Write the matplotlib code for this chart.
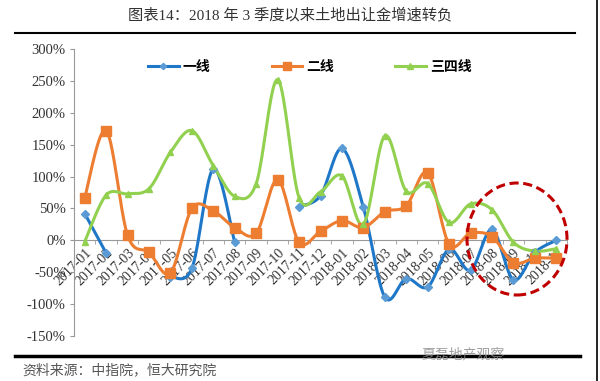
import numpy as np
import matplotlib.pyplot as plt
from matplotlib.patches import Ellipse
from matplotlib.lines import Line2D

plt.rcParams['font.family'] = ['Liberation Serif', 'Noto Sans CJK SC']

months = ["2017-01", "2017-02", "2017-03", "2017-04", "2017-05", "2017-06",
          "2017-07", "2017-08", "2017-09", "2017-10", "2017-11", "2017-12",
          "2018-01", "2018-02", "2018-03", "2018-04", "2018-05", "2018-06",
          "2018-07", "2018-08", "2018-09", "2018-10", "2018-11"]

# 一线 has gaps (None)
tier1 = [42, -20, None, None, -57, -44, 112, -3, None, None, 53, 70,
         144, 52, -89, -60, -73, -14, -47, 17, -62, -19, 0]
tier2 = [67, 172, 8, -19, -51, 50, 46, 20, 11, 95, -3, 14,
         31, 20, 45, 54, 106, -6, 11, 6, -35, -28, -28]
tier34 = [-2, 71, 73, 81, 138, 172, 117, 69, 89, 252, 67, 76,
          101, 25, 164, 77, 89, 28, 57, 48, -3, -17, -13]

names = ["一线", "二线", "三四线"]
colors = ["#1F77C8", "#ED7D31", "#92D050"]
mcolors = ["#5B9BD5", "#ED7D31", "#92D050"]
markers = ["D", "s", "^"]
msizes = [4, 6.5, 5]


def smooth(x, y, n=20):
    # catmull-rom curve through the points (like excel smoothed lines)
    x = np.asarray(x, float)
    y = np.asarray(y, float)
    if len(x) < 3:
        return x, y
    px = np.concatenate([[x[0]], x, [x[-1]]])
    py = np.concatenate([[y[0]], y, [y[-1]]])
    outx, outy = [], []
    t = np.linspace(0, 1, n)
    for i in range(1, len(px) - 2):
        for p, out in ((px, outx), (py, outy)):
            p0, p1, p2, p3 = p[i - 1], p[i], p[i + 1], p[i + 2]
            c1 = p1 + (p2 - p0) / 6
            c2 = p2 - (p3 - p1) / 6
            b = ((1 - t) ** 3 * p1 + 3 * (1 - t) ** 2 * t * c1
                 + 3 * (1 - t) * t ** 2 * c2 + t ** 3 * p2)
            out.extend(b)
    return np.array(outx), np.array(outy)


fig = plt.figure(figsize=(6, 3.81), dpi=100)
ax = fig.add_axes([74 / 600, 1 - 336 / 381, (567 - 74) / 600, (336 - 49) / 381])

xs = np.arange(len(months))
for vals, c, mc, m, ms in zip([tier1, tier2, tier34], colors, mcolors, markers, msizes):
    # split at gaps
    seg_x, seg_y = [], []
    segs = []
    for i, v in enumerate(vals):
        if v is None:
            if seg_x:
                segs.append((seg_x, seg_y))
            seg_x, seg_y = [], []
        else:
            seg_x.append(i)
            seg_y.append(v)
    if seg_x:
        segs.append((seg_x, seg_y))
    for sx, sy in segs:
        cx, cy = smooth(sx, sy)
        ax.plot(cx, cy, color=c, lw=2.2, zorder=3, solid_capstyle='round')
        ax.plot(sx, sy, ls='none', marker=m, ms=ms, color=mc, mec=mc, zorder=4)

ax.set_xlim(-0.5, len(months) - 0.5)
ax.set_ylim(-150, 300)
ax.set_yticks(np.arange(-150, 301, 50))
ax.set_yticklabels([f"{v}%" for v in range(-150, 301, 50)], fontsize=10.5, color="#333333")
ax.tick_params(axis='y', direction='out', length=3, color="#999999", pad=3)

for s in ['top', 'right']:
    ax.spines[s].set_visible(False)
ax.spines['left'].set_color("#999999")
ax.spines['bottom'].set_position(('data', 0))
ax.spines['bottom'].set_color("#999999")

ax.set_xticks(xs)
ax.set_xticklabels(months, rotation=45, ha='right', rotation_mode='anchor',
                   fontsize=10, color="#333333")
ax.set_xticks(np.arange(-0.5, len(months), 1), minor=True)
ax.tick_params(axis='x', which='major', length=0, pad=4)
ax.tick_params(axis='x', which='minor', length=3, color="#999999", direction='out')

# legend
handles = [Line2D([], [], color=c, lw=2.2, marker=m, ms=ms * 0.8, mfc=mc, mec=mc)
           for c, mc, m, ms in zip(colors, mcolors, markers, msizes)]
fig.legend(handles, names, loc='center left',
           bbox_to_anchor=(148 / 600, 1 - 67 / 381), ncol=3,
           frameon=False, columnspacing=4.4, handlelength=2.2,
           handletextpad=0.3, borderpad=0, borderaxespad=0,
           prop={'weight': 'bold', 'size': 10})

# dashed circle highlighting the last months
circle = Ellipse((517, 381 - 239), 100, 112, transform=None, fill=False,
                 ec="#C00000", lw=2.2, ls=(0, (3, 1.5)), zorder=6)
fig.patches.append(circle)

# title and decoration
fig.text(290 / 600, 1 - 15 / 381, "图表14：2018 年 3 季度以来土地出让金增速转负",
         ha='center', va='center', fontsize=11, color="#333333")
fig.add_artist(Line2D([15 / 600, 575 / 600], [1 - 33 / 381, 1 - 33 / 381],
                      color='black', lw=1.5, transform=fig.transFigure))
fig.add_artist(Line2D([15 / 600, 580 / 600], [1 - 356 / 381, 1 - 356 / 381],
                      color='black', lw=2.5, transform=fig.transFigure))
fig.add_artist(Line2D([597 / 600, 597 / 600], [0, 1],
                      color='black', lw=1.2, transform=fig.transFigure))
fig.text(22 / 600, 1 - 370 / 381, "资料来源：中指院，恒大研究院", ha='left', va='center',
         fontsize=10, color="#555555", style='italic')
fig.text(505 / 600, 1 - 355 / 381, "夏磊地产观察", ha='right', va='center',
         fontsize=10, color="#888888", alpha=0.8)

fig.savefig("out.png", dpi=100)
